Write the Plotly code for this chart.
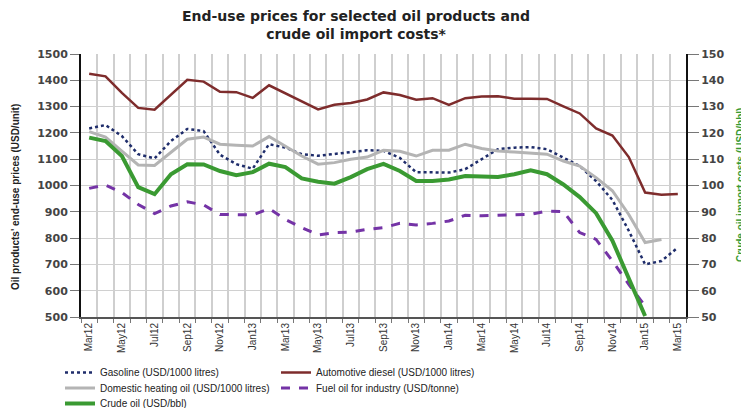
import plotly.graph_objects as go

months = ["Mar12","Apr12","May12","Jun12","Jul12","Aug12","Sep12","Oct12","Nov12","Dec12",
          "Jan13","Feb13","Mar13","Apr13","May13","Jun13","Jul13","Aug13","Sep13","Oct13","Nov13","Dec13",
          "Jan14","Feb14","Mar14","Apr14","May14","Jun14","Jul14","Aug14","Sep14","Oct14","Nov14","Dec14",
          "Jan15","Feb15","Mar15"]

gasoline = [1217,1230,1188,1119,1103,1169,1215,1207,1117,1081,1064,1157,1144,1119,1113,1119,1127,1134,1132,1105,
            1050,1050,1049,1062,1100,1138,1144,1146,1138,1106,1074,1017,945,828,700,713,764]
diesel = [1425,1415,1352,1295,1288,1345,1402,1395,1356,1355,1333,1381,1350,1318,1289,1307,1314,1327,1354,1344,
          1326,1332,1306,1332,1338,1339,1330,1330,1329,1301,1274,1217,1190,1108,973,965,968]
heating = [1205,1184,1131,1078,1076,1125,1176,1184,1157,1153,1150,1186,1150,1112,1081,1087,1100,1108,1134,1130,
           1112,1134,1134,1157,1141,1131,1127,1123,1119,1093,1074,1030,980,890,783,795,None]
fuel_oil = [989,1002,973,928,893,922,938,926,890,890,888,912,871,840,812,821,823,833,840,856,
            850,856,865,887,885,887,889,890,903,901,821,795,713,624,542,None,None]
crude = [118.2,116.9,111.2,99.4,96.7,104.3,108.1,108.0,105.5,103.9,105.1,108.3,107.0,102.7,101.4,100.7,103.2,106.2,108.2,105.5,
         101.7,101.7,102.3,103.6,103.4,103.2,104.3,105.8,104.3,100.4,95.6,89.5,79.0,64.9,50.4,None,None]

x = list(range(len(months)))
tick_idx = list(range(0, len(months), 2))
tick_text = [months[i] for i in tick_idx]

FONT = "Liberation Sans, Arial, sans-serif"
WIDE = "DejaVu Sans, Verdana, sans-serif"
GREEN = "#3A9A32"

fig = go.Figure()
fig.add_trace(go.Scatter(x=x, y=gasoline, mode="lines", name="Gasoline (USD/1000 litres)",
                         line=dict(color="#1F2D6B", width=2.5, dash="dot"), legend="legend"))
fig.add_trace(go.Scatter(x=x, y=diesel, mode="lines", name="Automotive diesel (USD/1000 litres)",
                         line=dict(color="#7E2C2C", width=2.5), legend="legend"))
fig.add_trace(go.Scatter(x=x, y=heating, mode="lines", name="Domestic heating oil (USD/1000 litres)",
                         line=dict(color="#B4B4B4", width=3), legend="legend2"))
fig.add_trace(go.Scatter(x=x, y=fuel_oil, mode="lines", name="Fuel oil for industry (USD/tonne)",
                         line=dict(color="#7433A6", width=3, dash="dash"), legend="legend2"))
fig.add_trace(go.Scatter(x=x, y=crude, mode="lines", name="Crude oil (USD/bbl)", yaxis="y2",
                         line=dict(color=GREEN, width=4), legend="legend3"))

leg_common = dict(orientation="h", xanchor="left", yanchor="top", x=52/741, xref="container", yref="container",
                  font=dict(family=FONT, size=10, color="#222"), entrywidth=171,
                  bgcolor="rgba(0,0,0,0)", itemclick=False)

tickfont = dict(family=WIDE, size=11, color="#444", weight="bold")

fig.update_layout(
    width=741, height=400,
    margin=dict(l=73, r=63, t=46, b=91),
    paper_bgcolor="white", plot_bgcolor="white",
    title=dict(text="<b>End-use prices for selected oil products and<br>crude oil import costs*</b>",
               x=348/741, xanchor="center", xref="container", y=1-13/400, yref="container", yanchor="middle",
               font=dict(family=WIDE, size=14, color="#222")),
    xaxis=dict(range=[-0.5, 36.5], tickmode="array", tickvals=tick_idx, ticktext=tick_text,
               tickangle=-90, tickfont=dict(family=FONT, size=10, color="#333"),
               showgrid=False, zeroline=False, showline=True, linecolor="#555", linewidth=2,
               ticks="", automargin=False,
               minor=dict(tickmode="array", tickvals=[i - 0.5 for i in range(38)], showgrid=True,
                          gridcolor="#CFCFCF", gridwidth=1.5, ticks="outside", ticklen=4, tickcolor="#777")),
    yaxis=dict(range=[500, 1500], dtick=100, showgrid=True, gridcolor="#D0D0D0", gridwidth=1,
               zeroline=False, showline=True, linecolor="#111", linewidth=2, ticks="outside", ticklen=9,
               tickcolor="#777", tickfont=tickfont, automargin=False),
    yaxis2=dict(range=[50, 150], dtick=10, overlaying="y", side="right", showgrid=False, zeroline=False,
                showline=True, linecolor="#111", linewidth=2, ticks="outside", ticklen=11, tickcolor="#777",
                tickfont=tickfont, automargin=False),
    legend=dict(leg_common, y=1-350/400),
    legend2=dict(leg_common, y=1-365.5/400),
    legend3=dict(leg_common, y=1-381/400),
    showlegend=True,
    annotations=[
        dict(text="<b>Oil products' end-use prices (USD/unit)</b>", textangle=-90, showarrow=False,
             xref="paper", yref="paper", x=(7-73)/605, y=(309-189)/263, xanchor="center", yanchor="middle",
             font=dict(family=FONT, size=10, color="#222")),
        dict(text="<b>Crude oil import costs (USD/bbl)</b>", textangle=-90, showarrow=False,
             xref="paper", yref="paper", x=(732-73)/605, y=(309-177)/263, xanchor="center", yanchor="middle",
             font=dict(family=FONT, size=10, color=GREEN)),
    ],
)

fig.write_html("out.html")
